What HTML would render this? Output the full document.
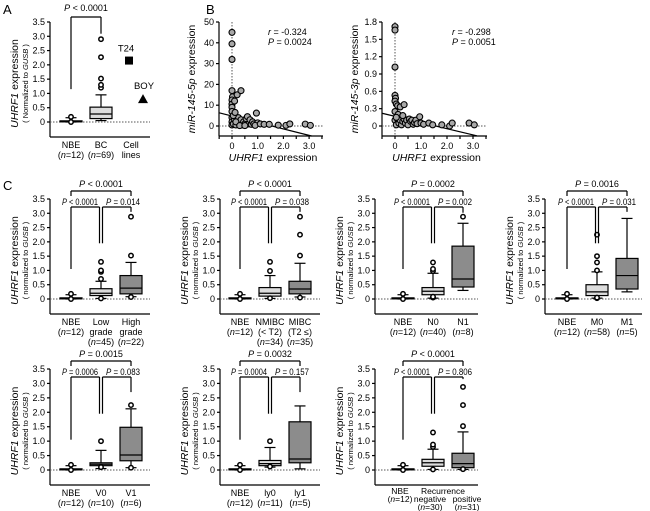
<!DOCTYPE html>
<html><head><meta charset="utf-8">
<style>
html,body{margin:0;padding:0;background:#fff;}
svg{display:block;font-family:"Liberation Sans",Arial,sans-serif;}
</style></head>
<body>
<svg id="fig" width="650" height="511" viewBox="0 0 650 511" xmlns="http://www.w3.org/2000/svg">
<text x="3" y="14" font-size="13">A</text>
<text x="206" y="14" font-size="13">B</text>
<text x="3" y="190" font-size="13">C</text>
</svg>
<script>
// ---------- DATA ----------
// box stats: [whiskerLow, q1, median, q3, whiskerHigh]
const catsA=[["NBE","(n=12)"],["BC","(n=69)"],["Cell","lines"]];
const boxA=[[0,0.01,0.02,0.04,0.15],[0.05,0.12,0.28,0.52,0.95]];
const outA=[[0.18,0],[1.2,1.3,1.52,2.27,2.9]];
const cellLineNames=["T24","BOY"];
const cellLineValues=[2.15,0.8];

const catsC1=[["NBE","(n=12)"],["Low","grade","(n=45)"],["High","grade","(n=22)"]];
const boxC1=[[0,0.01,0.02,0.04,0.15],[0.02,0.12,0.2,0.36,0.62],[0.08,0.18,0.38,0.82,1.28]];
const outC1=[[0.18,0],[0.02,0.7,0.95,1.0,1.3],[0.07,1.52,2.88]];
const pC1=["P < 0.0001","P < 0.0001","P = 0.014"];

const catsC2=[["NBE","(n=12)"],["NMIBC","(< T2)","(n=34)"],["MIBC","(T2 ≤)","(n=35)"]];
const boxC2=[[0,0.01,0.02,0.04,0.15],[0.02,0.1,0.2,0.4,0.82],[0.07,0.18,0.35,0.62,1.25]];
const outC2=[[0.18,0],[0.03,0.98,1.3],[0.05,1.52,2.25,2.88]];
const pC2=["P < 0.0001","P < 0.0001","P = 0.038"];

const catsC3=[["NBE","(n=12)"],["N0","(n=40)"],["N1","(n=8)"]];
const boxC3=[[0,0.01,0.02,0.04,0.15],[0.03,0.15,0.27,0.4,0.9],[0.3,0.42,0.7,1.85,2.65]];
const outC3=[[0.18,0],[0.05,0.08,0.98,1.05,1.28],[2.88]];
const pC3=["P = 0.0002","P < 0.0001","P = 0.002"];

const catsC4=[["NBE","(n=12)"],["M0","(n=58)"],["M1","(n=5)"]];
const boxC4=[[0,0.01,0.02,0.04,0.15],[0.03,0.12,0.25,0.5,0.95],[0.25,0.35,0.82,1.42,2.82]];
const outC4=[[0.18,0],[0.03,0.05,1.0,1.28,1.5,2.25],[]];
const pC4=["P = 0.0016","P < 0.0001","P = 0.031"];

const catsC5=[["NBE","(n=12)"],["V0","(n=10)"],["V1","(n=6)"]];
const boxC5=[[0,0.01,0.02,0.04,0.15],[0.05,0.15,0.2,0.25,0.68],[0.08,0.32,0.52,1.48,2.12]];
const outC5=[[0.18,0],[0.1,1.0],[0.08,2.25]];
const pC5=["P = 0.0015","P = 0.0006","P = 0.083"];

const catsC6=[["NBE","(n=12)"],["ly0","(n=11)"],["ly1","(n=5)"]];
const boxC6=[[0,0.01,0.02,0.04,0.15],[0.1,0.15,0.22,0.33,0.78],[0.04,0.25,0.38,1.67,2.22]];
const outC6=[[0.18,0],[0.12,1.0],[]];
const pC6=["P = 0.0032","P = 0.0004","P = 0.157"];

const catsC7=[["NBE","(n=12)"],["","negative","(n=30)"],["","positive","(n=31)"]];
const boxC7=[[0,0.01,0.02,0.04,0.15],[0.02,0.13,0.25,0.37,0.72],[0.02,0.08,0.22,0.58,1.32]];
const outC7=[[0.18,0],[0.02,0.8,0.88,1.3],[0.03,1.52,2.25,2.88]];
const pC7=["P < 0.0001","P < 0.0001","P = 0.806"];

const yTicksBox=[0,0.5,1.0,1.5,2.0,2.5,3.0,3.5];
const yTickLabelsBox=["0","0.5","1.0","1.5","2.0","2.5","3.0","3.5"];

const scat1X=[0,0,0,0,0.02,0,0,0,0,0,0,0,0.05,0.1,0.15,0.2,0.35,0.1,0.2,0.3,0.25,0.35,0.4,0.45,0.5,0.55,0.6,0.65,0.7,0.75,0.8,0.85,0.95,1.0,0.9,1.1,1.25,1.45,1.8,2.1,2.25,2.85,3.05,0.15,0.3,0.5,0.05,0.12];
const scat1Y=[45,39.5,32,17,14,12.5,10.5,9,7,4,2,0.5,1,3,0.5,15,17,12,2.5,1,4,3,0.5,2,1,3.5,4.5,1,3,0.8,2,1,6.2,1.5,0.3,1,0.8,0.8,0.4,0.3,1,0.9,0.3,2,0.2,0.2,5,6.5];
const scat1Fit=[4.8,-3.1];
const scat1YTicks=[0,10,20,30,40,50];
const scat2X=[0,0,0,0,0.02,0,0.05,0.1,0.2,0.35,0,0,0.05,0.1,0.15,0.2,0.25,0.3,0.35,0.4,0.45,0.5,0.55,0.6,0.65,0.7,0.75,0.8,0.85,0.95,1.0,1.1,1.3,1.45,1.8,2.1,2.2,2.85,3.05,0.12,0.3,0.05];
const scat2Y=[1.72,1.66,1.02,0.53,0.48,0.43,0.38,0.35,0.33,0.37,0.25,0.1,0.02,0.12,0.05,0.1,0.02,0.08,0.12,0.05,0.1,0.02,0.12,0.08,0.1,0.03,0.06,0.1,0.04,0.16,0.05,0.03,0.05,0.02,0.02,0,0.05,0.05,0.02,0.2,0.18,0.15];
const scat2Fit=[0.167,-0.107];
const scat2YTicks=[0,0.3,0.6,0.9,1.2,1.5,1.8];
const scat2YLabels=["0","0.3","0.6","0.9","1.2","1.5","1.8"];
const scatXTicks=[0,1.0,2.0,3.0];
const scatXLabels=["0","1.0","2.0","3.0"];

// ---------- DRAW ----------
const NS='http://www.w3.org/2000/svg';
const svg=document.getElementById('fig');
function mk(parent,tag,attrs,text){
  const el=document.createElementNS(NS,tag);
  for(const k in attrs) el.setAttribute(k,attrs[k]);
  if(text!==undefined) el.textContent=text;
  parent.appendChild(el);
  return el;
}
function pText(parent,x,y,str,size,anchor,name,len){
  const a={x:x,y:y,'font-size':size,'text-anchor':anchor||'middle'};
  if(len){a.textLength=len;a.lengthAdjust='spacingAndGlyphs';}
  const t=mk(parent,'text',a);
  
  
  const m=str.match(/^(.*?)([Pr])( [=<].*)$/);
  if(m){
    if(m[1]) mk(t,'tspan',{},m[1]);
    mk(t,'tspan',{'font-style':'italic'},m[2]);
    mk(t,'tspan',{},m[3]);
  } else if(/^\(n=/.test(str)){
    mk(t,'tspan',{},'(');
    mk(t,'tspan',{'font-style':'italic'},'n');
    mk(t,'tspan',{},str.slice(2));
  } else t.textContent=str;
  return t;
}
function line(parent,x1,y1,x2,y2,name,extra){
  const a={x1:x1,y1:y1,x2:x2,y2:y2,stroke:'#000','stroke-width':1.2};
  if(extra) for(const k in extra) a[k]=extra[k];
  const l=mk(parent,'line',a);
  
  
  return l;
}

function boxPanel(id,cfg,cats,boxes,outs,pvals){
  const g=mk(svg,'g',{});
  
  
  const z=cfg.zeroY, top=cfg.topY, k=(z-top)/3.5;
  const y=v=>z-v*k;
  const bottom=z+15;
  line(g,cfg.ax,top,cfg.ax,bottom,'y-axis');
  line(g,cfg.ax,bottom,cfg.axEnd,bottom,'x-axis');
  yTicksBox.forEach((v,i)=>{
    line(g,cfg.ax-3,y(v),cfg.ax,y(v),'y-tick');
    pText(g,cfg.ax-5,y(v)+3,yTickLabelsBox[i],9,'end','y-tick-label');
  });
  line(g,cfg.ax,z,cfg.axEnd,z,'zero-line',{stroke:'#555','stroke-width':1,'stroke-dasharray':'1.5,1.5'});
  const cy=(top+bottom)/2+4;
  const t1=mk(g,'text',{x:0,y:0,'font-size':10.5,'text-anchor':'middle',transform:`translate(${cfg.ax-32},${cy}) rotate(-90)`});
  
  
  mk(t1,'tspan',{'font-style':'italic'},'UHRF1');
  mk(t1,'tspan',{},'  expression');
  const t2=mk(g,'text',{x:0,y:0,'font-size':7.5,'text-anchor':'middle',transform:`translate(${cfg.ax-22},${cy}) rotate(-90)`});
  
  
  mk(t2,'tspan',{},'( '+(cfg.capN?'Normalized':'normalized')+' to ');
  mk(t2,'tspan',{'font-style':'italic'},'GUSB');
  mk(t2,'tspan',{},' )');
  const fs=cfg.catFont||9;
  const gap=cfg.lineGap||10;
  const off=cfg.labelOff||11;
  cats.forEach((c,i)=>{
    c.forEach((s,j)=>{
      if(!s) return;
      const sh=cfg.labelShift?cfg.labelShift[i]:0;
      pText(g,cfg.cx[i]+sh,bottom+off+j*gap,s,fs,'middle','category-label');
    });
  });
  if(cfg.groupLabel) pText(g,cfg.groupX,bottom+off,cfg.groupLabel,fs,'middle','group-label');
  const fills=['#fff','#dcdcdc','#8c8c8c'];
  boxes.forEach((b,i)=>{
    const x=cfg.cx[i], w=22, cw=11;
    line(g,x,y(b[0]),x,y(b[1]),'whisker-low');
    line(g,x,y(b[3]),x,y(b[4]),'whisker-high');
    line(g,x-cw/2,y(b[0]),x+cw/2,y(b[0]),'whisker-cap');
    line(g,x-cw/2,y(b[4]),x+cw/2,y(b[4]),'whisker-cap');
    const r=mk(g,'rect',{x:x-w/2,y:y(b[3]),width:w,height:Math.max(1,y(b[1])-y(b[3])),fill:fills[i],stroke:'#000','stroke-width':1.2});
    
    
    line(g,x-w/2,y(b[2]),x+w/2,y(b[2]),'median-line');
    outs[i].forEach(v=>{
      const c=mk(g,'circle',{cx:x,cy:y(v),r:2.2,fill:'#fff',stroke:'#000','stroke-width':1.5});
      
      
    });
  });
  if(pvals){
    const s=y(3.5);
    const bT=s-8, bS=s+8;
    pText(g,(cfg.cx[0]+cfg.cx[2])/2,s-12,pvals[0],9,'middle','p-value-overall');
    line(g,cfg.cx[0],bT,cfg.cx[2],bT,'bracket-overall');
    line(g,cfg.cx[0],bT,cfg.cx[0],bT+5,'bracket-leg');
    line(g,cfg.cx[2],bT,cfg.cx[2],bT+5,'bracket-leg');
    pText(g,(cfg.cx[0]+cfg.cx[1])/2-6,s+6,pvals[1],9,'middle','p-value-left',36);
    pText(g,(cfg.cx[1]+cfg.cx[2])/2+7,s+6,pvals[2],9,'middle','p-value-right',34);
    line(g,cfg.cx[0],bS,cfg.cx[1]-1.5,bS,'bracket-left');
    line(g,cfg.cx[1]+1.5,bS,cfg.cx[2],bS,'bracket-right');
    line(g,cfg.cx[0],bS,cfg.cx[0],y(1.05),'bracket-leg');
    line(g,cfg.cx[1]-1.5,bS,cfg.cx[1]-1.5,y(1.95),'bracket-leg');
    line(g,cfg.cx[1]+1.5,bS,cfg.cx[1]+1.5,y(1.95),'bracket-leg');
    line(g,cfg.cx[2],bS,cfg.cx[2],y(cfg.rightLeg),'bracket-leg');
  }
  return {g:g,y:y};
}

const pa=boxPanel('panel-a',{ax:50,axEnd:150,zeroY:122,topY:22,cx:[71,101,131],capN:true},catsA,boxA,outA,null);
(function(){
  const g=pa.g,y=pa.y;
  pText(g,86,11,'P < 0.0001',9,'middle','p-value-a');
  line(g,71,17,101,17,'bracket-a');
  line(g,71,17,71,y(1.15),'bracket-leg');
  line(g,101,17,101,y(2.95)-4,'bracket-leg');
  const sq=mk(g,'rect',{x:125,y:y(cellLineValues[0])-4,width:8,height:8,fill:'#000'});
  
  
  pText(g,126,y(cellLineValues[0])-9,cellLineNames[0],9.5,'middle','cell-line-t24-label');
  const yb=y(cellLineValues[1]);
  const tr=mk(g,'polygon',{points:`${143-5},${yb+4} ${143+5},${yb+4} ${143},${yb-5}`,fill:'#000'});
  
  
  pText(g,144,yb-10,cellLineNames[1],9.5,'middle','cell-line-boy-label');
})();

boxPanel('panel-c-grade',{ax:50,axEnd:150,zeroY:299,topY:199,cx:[71,101,131],rightLeg:3.05},catsC1,boxC1,outC1,pC1);
boxPanel('panel-c-stage',{ax:220,axEnd:320,zeroY:299,topY:199,cx:[240,270,300],rightLeg:3.05},catsC2,boxC2,outC2,pC2);
boxPanel('panel-c-node',{ax:375,axEnd:478,zeroY:299,topY:199,cx:[403,433,463],rightLeg:3.02},catsC3,boxC3,outC3,pC3);
boxPanel('panel-c-metastasis',{ax:545,axEnd:642,zeroY:299,topY:199,cx:[567,597,627],rightLeg:3.05},catsC4,boxC4,outC4,pC4);
boxPanel('panel-c-venous',{ax:50,axEnd:150,zeroY:470,topY:369,cx:[71,101,131],rightLeg:2.7},catsC5,boxC5,outC5,pC5);
boxPanel('panel-c-lymphatic',{ax:220,axEnd:320,zeroY:470,topY:369,cx:[240,270,300],rightLeg:2.7},catsC6,boxC6,outC6,pC6);
boxPanel('panel-c-recurrence',{ax:375,axEnd:478,zeroY:470,topY:369,cx:[403,433,463],rightLeg:3.15,groupLabel:'Recurrence',groupX:443,labelShift:[-3,-3,4],catFont:8.5,lineGap:8,labelOff:9},catsC7,boxC7,outC7,pC7);

function scatter(id,cfg,xs,ys,fit,yt,ytl,ylabelParts,stat){
  const g=mk(svg,'g',{});
  
  
  const X=v=>cfg.x0+v*cfg.kx;
  const Y=v=>cfg.y0-v*cfg.ky;
  const left=cfg.ax, bottom=136, right=cfg.axEnd;
  line(g,left,Y(cfg.yMax),left,bottom,'y-axis');
  line(g,left,bottom,right,bottom,'x-axis');
  yt.forEach((v,i)=>{
    line(g,left-3,Y(v),left,Y(v),'y-tick');
    pText(g,left-5,Y(v)+3,ytl[i],9,'end','y-tick-label');
  });
  [-0.5,0,0.5,1,1.5,2,2.5,3,3.5].forEach(v=>{ if(X(v)>=left-0.5 && X(v)<=right+0.5) line(g,X(v),bottom,X(v),bottom+3,'x-tick'); });
  scatXTicks.forEach((v,i)=>pText(g,X(v),bottom+13,scatXLabels[i],9,'middle','x-tick-label'));
  line(g,left,Y(0),right,Y(0),'zero-line-h',{stroke:'#555','stroke-width':1,'stroke-dasharray':'1.5,1.5'});
  line(g,X(0),Y(cfg.yMax),X(0),bottom,'zero-line-v',{stroke:'#555','stroke-width':1,'stroke-dasharray':'1.5,1.5'});
  const xt=mk(g,'text',{x:(left+right)/2+2,y:161,'font-size':10.5,'text-anchor':'middle'});
  
  
  mk(xt,'tspan',{'font-style':'italic'},'UHRF1');
  mk(xt,'tspan',{},'  expression');
  const yl=mk(g,'text',{x:0,y:0,'font-size':10.5,'text-anchor':'middle',transform:`translate(${left-24},${(Y(cfg.yMax)+bottom)/2}) rotate(-90)`});
  
  
  mk(yl,'tspan',{'font-style':'italic'},ylabelParts);
  mk(yl,'tspan',{},'  expression');
  const xa=-0.5, xb=(cfg.yMin-fit[0])/fit[1];
  line(g,X(xa),Y(fit[0]+fit[1]*xa),X(xb),Y(cfg.yMin),'regression-line');
  xs.forEach((v,i)=>{
    const c=mk(g,'circle',{cx:X(v),cy:Y(ys[i]),r:3,fill:'#a8a8a8',stroke:'#000','stroke-width':1.1});
    
    
  });
  pText(g,cfg.statX,35,stat[0],9,'start','r-value');
  pText(g,cfg.statX,45,stat[1],9,'start','p-value');
}
scatter('panel-b-5p',{ax:219,axEnd:323,x0:232,kx:25.7,y0:126,ky:104/50,yMax:50,yMin:-4.8,statX:268},scat1X,scat1Y,scat1Fit,scat1YTicks,scat1YTicks.map(String),'miR-145-5p',['r = -0.324','P = 0.0024']);
scatter('panel-b-3p',{ax:382,axEnd:487,x0:395,kx:26,y0:126,ky:104/1.8,yMax:1.8,yMin:-0.17,statX:452},scat2X,scat2Y,scat2Fit,scat2YTicks,scat2YLabels,'miR-145-3p',['r = -0.298','P = 0.0051']);
</script>
</body></html>
